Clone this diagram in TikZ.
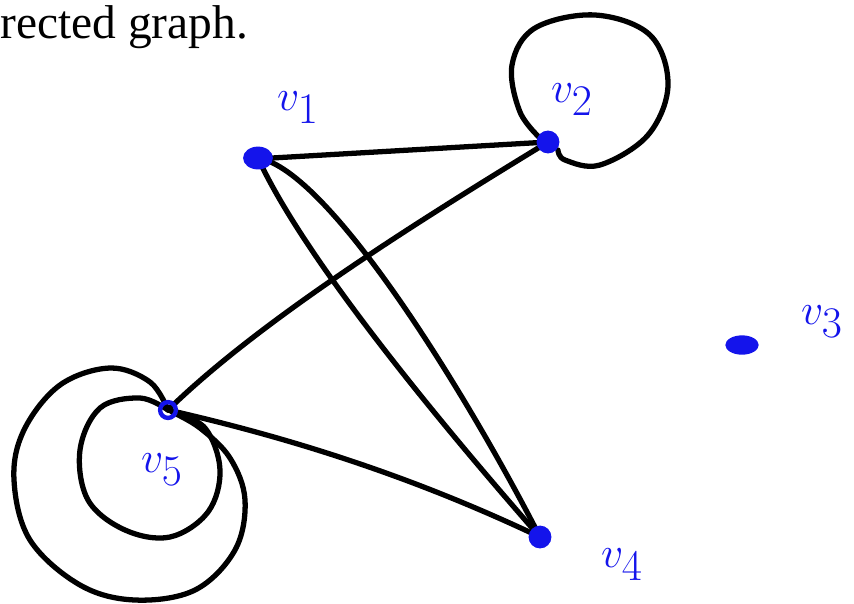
\documentclass[tikz,border=0pt]{standalone}
\usepackage{fontspec}
\setmainfont{Liberation Serif}
\usetikzlibrary{shapes.geometric}
\definecolor{ink}{RGB}{20,20,235}
\begin{document}
\begin{tikzpicture}[x=0.02cm,y=-0.02cm,
  edge/.style={line width=3pt,line cap=round,line join=round,black},
  vdot/.style={circle,fill=ink,inner sep=0pt,minimum size=15pt},
  vlabel/.style={text=ink,font=\fontsize{50}{50}\selectfont}]
\useasboundingbox (0,0) rectangle (854,603);
% title fragment
\node[anchor=base west,inner sep=0pt,font=\fontsize{27}{27}\selectfont] (title) at (0,38) {rected graph.};
% vertices
\coordinate (v1) at (258,158);
\coordinate (v2) at (548,142);
\coordinate (v3) at (742,345);
\coordinate (v4) at (540,537);
\coordinate (v5) at (168,410);
% edges
\draw[edge] (v1) ++(14,0) -- (v2);
\draw[edge] (v1) .. controls (300,250) and (420,400) .. (v4);
\draw[edge] (v1) .. controls (330,170) and (470,400) .. (v4);
\draw[edge] (v2) .. controls (420,220) and (260,320) .. (v5);
\draw[edge] (v5) .. controls (300,440) and (420,480) .. (v4);
% loop at v2
\draw[edge] plot[smooth,tension=0.6] coordinates {(542,140) (520,112) (512,65) (535,28) (595,15) (650,35) (668,85) (648,135) (600,165) (565,160) (558,150)};
% loops at v5
\draw[edge] plot[smooth,tension=0.6] coordinates {(168,410) (140,398) (100,408) (80,450) (88,500) (125,530) (170,537) (208,512) (220,470) (205,428) (172,412)};
\draw[edge] plot[smooth,tension=0.6] coordinates {(168,410) (150,382) (110,368) (60,385) (24,430) (14,480) (30,540) (80,585) (135,600) (195,590) (235,550) (245,500) (230,458) (200,428) (172,412)};
% vertex dots
\node[vdot,ellipse,minimum width=17pt,minimum height=13pt] (d1) at (v1) {};
\node[vdot,minimum size=13pt] (d2) at (v2) {};
\node[vdot,ellipse,minimum width=19pt,minimum height=11pt] (d3) at (v3) {};
\node[vdot,minimum size=13pt] (d4) at (v4) {};
\node[circle,draw=ink,line width=2.5pt,minimum size=9pt,inner sep=0pt] (d5) at (v5) {};
% labels
\node[vlabel] (l1) at (298,108) {$v_1$};
\node[vlabel] (l2) at (572,100) {$v_2$};
\node[vlabel] (l3) at (822,322) {$v_3$};
\node[vlabel] (l4) at (622,565) {$v_4$};
\node[vlabel] (l5) at (162,470) {$v_5$};
\end{tikzpicture}
\end{document}
